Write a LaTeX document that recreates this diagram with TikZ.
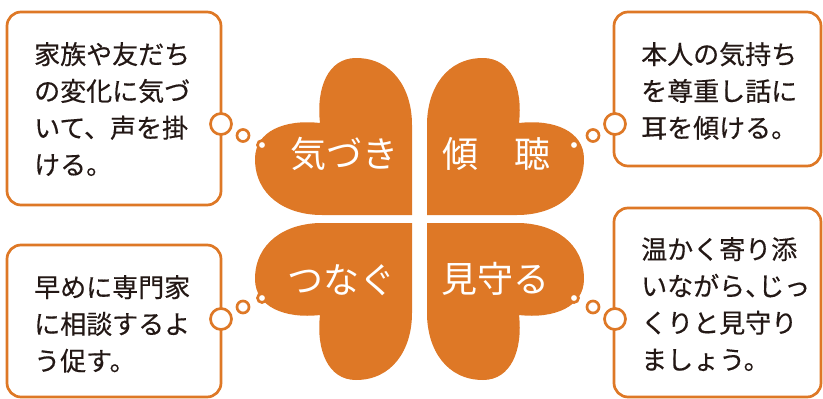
\documentclass[tikz,border=0pt]{standalone}
\usepackage{fontspec}
\newfontfamily\jp{Noto Sans CJK JP}
\newfontfamily\jpm[FakeBold=0.4]{Noto Sans CJK JP}
\definecolor{orng}{RGB}{222,120,38}
\definecolor{inkc}{RGB}{35,24,21}
\tikzset{
  leaf/.pic={\fill[orng] (0,0) -- (90,0) .. controls (127,0) and (157,20) .. (157,56)
      .. controls (157,84) and (127,96) .. (92,92)
      .. controls (96,127) and (84,157) .. (56,157)
      .. controls (20,157) and (0,127) .. (0,90) -- cycle;},
  bubble/.style={circle, draw=orng, line width=2.7pt, fill=white, inner sep=0pt, outer sep=0pt},
  infobox/.style={draw=orng, line width=2.7pt, rounded corners=14pt, inner sep=0pt, outer sep=0pt, anchor=north west},
  boxtext/.style={anchor=base west, inner sep=0pt, align=left, font=\jpm\fontsize{26}{36.8}\selectfont, text=inkc},
  leaflabel/.style={inner sep=0pt, font=\jp\fontsize{36}{36}\selectfont, text=white}
}
\begin{document}
\begin{tikzpicture}[x=1pt,y=-1pt]
\useasboundingbox (0,0) rectangle (823,399);
% four leaves
\pic[xscale=-1,yscale=-1] (lTL) at (412,215) {leaf};
\pic[yscale=-1] (lTR) at (427,215) {leaf};
\pic[xscale=-1] (lBL) at (412,223) {leaf};
\pic (lBR) at (427,223) {leaf};
% leaf labels
\node[leaflabel] (kizuki) at (344,154) {気づき};
\node[leaflabel] (keicho) at (496,154) {傾　聴};
\node[leaflabel] (tsunagu) at (341,280) {つなぐ};
\node[leaflabel] (mimamoru) at (495,279) {見守る};
% boxes
\node[infobox, minimum width=214pt, minimum height=193pt] (boxA) at (7,12) {};
\node[infobox, minimum width=207pt, minimum height=154pt] (boxB) at (614,12) {};
\node[infobox, minimum width=214pt, minimum height=152pt] (boxC) at (7,245) {};
\node[infobox, minimum width=207pt, minimum height=189pt] (boxD) at (614,208) {};
% box texts (anchor = baseline of last line)
\node[boxtext] (tA) at (34,174.4) {家族や友だち\\の変化に気づ\\いて、声を掛\\ける。};
\node[boxtext] (tB) at (641,137.6) {本人の気持ち\\を尊重し話に\\耳を傾ける。};
\node[boxtext] (tC) at (34,370.6) {早めに専門家\\に相談するよ\\う促す。};
\node[boxtext] (tD) at (641,369.4) {温かく寄り添\\いながら\makebox[0.5em][l]{、}じっ\\くりと見守り\\ましょう。};
% thought bubbles
\node[bubble, minimum size=21pt] (a1) at (221,124) {};
\node[bubble, minimum size=12pt] (a2) at (243,135.5) {};
\node[bubble, minimum size=9pt] (a3) at (262,145) {};
\node[bubble, minimum size=21pt] (b1) at (615,124) {};
\node[bubble, minimum size=12pt] (b2) at (593,135.5) {};
\node[bubble, minimum size=9pt] (b3) at (574,145) {};
\node[bubble, minimum size=21pt] (c1) at (221,319) {};
\node[bubble, minimum size=12pt] (c2) at (243,307) {};
\node[bubble, minimum size=9pt] (c3) at (262,298) {};
\node[bubble, minimum size=21pt] (d1) at (615,319) {};
\node[bubble, minimum size=12pt] (d2) at (593,307) {};
\node[bubble, minimum size=9pt] (d3) at (574,298) {};
\end{tikzpicture}
\end{document}
